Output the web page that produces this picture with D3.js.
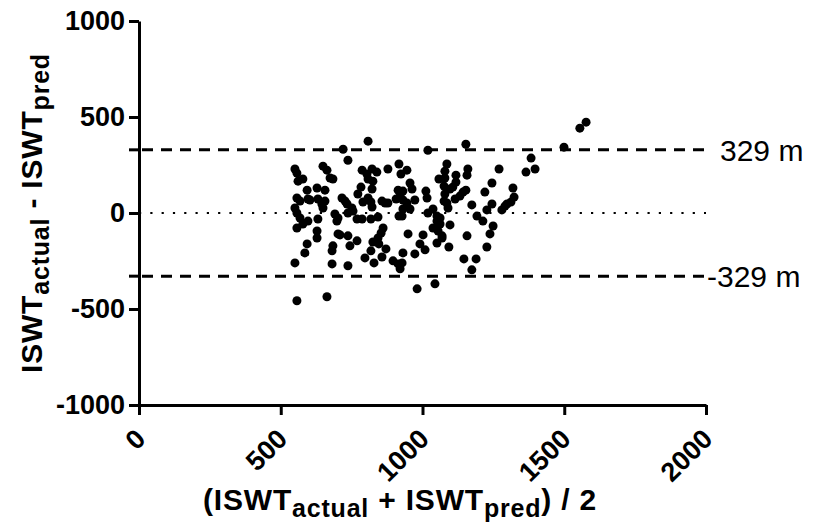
<!DOCTYPE html>
<html lang="en">
<head>
    <meta charset="UTF-8">
    <title>Bland-Altman ISWT</title>
    <script src="https://d3js.org/d3.v7.min.js"></script>
    <style>
        body {
            margin: 0;
            background: #fff;
        }
        svg {
            display: block;
            font-family: "Liberation Sans", Arial, sans-serif;
        }
        .axis path, .axis line {
            stroke: #000;
            stroke-width: 3;
        }
        .axis text {
            font-size: 27px;
            font-weight: bold;
            fill: #000;
        }
        .title {
            font-size: 30px;
            font-weight: bold;
            letter-spacing: 0.8px;
        }
        .limit-label {
            font-size: 30px;
        }
    </style>
</head>
<body>
    <div id="chart"></div>

    <script>
        // mean of actual and predicted ISWT (m)
        var meanVals = [
            550, 557, 561, 557, 568, 550, 557, 568, 578, 557, 596, 593, 596, 593, 585, 550, 557,
            628, 631, 631, 628, 628, 645, 649, 649, 663, 656, 656, 674, 684, 663, 691, 702, 698,
            702, 684, 681, 681, 709, 716, 727, 734, 751, 737, 755, 769, 720, 737, 737, 769, 744,
            737, 783, 772, 808,
            787, 804, 822, 839, 808, 825, 822, 790, 808, 818, 822, 787, 818, 843, 861, 854, 843,
            825, 846, 818, 871, 797, 829, 857, 896, 914, 928, 921, 931, 973, 949, 1002, 991, 1009,
            981, 1044, 878, 917, 924, 945, 956, 963, 914, 921, 907, 931, 945, 973, 1012, 1016, 857,
            878, 931, 917, 956, 1037, 1051, 1051, 1062, 1037, 1019, 1058, 1019, 1055, 1051, 1069,
            1086, 1079, 1079, 1076, 1097, 1079, 1076, 1090, 1062, 1097, 1093, 1153, 1118, 1118,
            1107, 1160, 1157, 1143, 1132, 1115, 1153, 1174, 1192, 1213, 1157, 1146, 1189, 1174,
            1220, 1245, 1270, 1245, 1227, 1249, 1238, 1227, 1319, 1323, 1312, 1298, 1291, 1280,
            1365, 1383, 1397, 1499, 1555, 1577,
            928, 603, 578, 1086, 1069, 931, 868
        ];
        // difference actual - predicted (m)
        var diffVals = [
            229, 208, 166, 78, 62, 26, 0, -26, -57, -78, -42, 119, 73, -161, -208, -260, -457,
            130, 73, -31, -94, -130, 47, 26, 244, 223, 119, 62, 182, 177, -436, -5, -26, -42,
            -109, -171, -197, -265, -114, 78, 62, 47, 26, 0, 10, -31, 332, 275, -119, -145, -171,
            -275, 135, 99, 374,
            223, 203, 229, 213, 177, 166, 125, 57, 78, 57, 31, -31, -31, -21, -78, -104, -130,
            -151, -161, -197, -187, -234, -260, -229, -249, -265, -260, -291, -208, -213, -109, -114, -161, -192,
            -395, -369, 229, 255, 203, 223, 156, 125, 119, 88, 73, 68, 52, 68, 114, 78, 62,
            52, 21, -16, 21, 21, -16, -42, -57, -78, 327, 177, 0, -94, -156, -119,
            255, 218, 182, 140, 125, 99, 62, 26, -26, -62, -177, 358, 197, 161,
            135, 229, 197, 109, 88, 73, 119, 42, -16, -42, -119, -239, -239, -296,
            109, 156, 229, 47, 16, -68, -109, -177, 130, 83, 57, 47, 36, 16,
            213, 286, 229, 343, 442, 473,
            -16, 68, 177, 52, -130, 114, 52
        ];
        var limits = [329, -329];
        var limitLabels = ["329 m", "-329 m"];
        var xTicks = [0, 500, 1000, 1500, 2000];
        var yTicks = [-1000, -500, 0, 500, 1000];

        var width = 813;
        var height = 529;

        var svg = d3.select("#chart")
            .append("svg")
            .attr("width", width)
            .attr("height", height);

        var x = d3.scaleLinear().domain([0, 2000]).range([139, 706]);
        var y = d3.scaleLinear().domain([-1000, 1000]).range([405, 21]);

        // bias line
        svg.append("line")
            .attr("x1", x(0)).attr("x2", x(2000))
            .attr("y1", y(0)).attr("y2", y(0))
            .attr("stroke", "#000")
            .attr("stroke-width", 2.2)
            .attr("stroke-dasharray", "2.2,9.1");

        // limits of agreement
        svg.selectAll(".limit")
            .data(limits)
            .enter().append("line")
            .attr("class", "limit")
            .attr("x1", x(0) + 3).attr("x2", x(2000))
            .attr("y1", d => y(d)).attr("y2", d => y(d))
            .attr("stroke", "#000")
            .attr("stroke-width", 3)
            .attr("stroke-dasharray", "11,8");

        svg.selectAll(".limit-label")
            .data(limits)
            .enter().append("text")
            .attr("class", "limit-label")
            .attr("x", d => x(2000) + (d > 0 ? 14 : 1))
            .attr("y", d => y(d))
            .attr("dy", "0.36em")
            .text((d, i) => limitLabels[i]);

        // points
        svg.selectAll(".dot")
            .data(meanVals)
            .enter().append("circle")
            .attr("class", "dot")
            .attr("cx", d => x(d))
            .attr("cy", (d, i) => y(diffVals[i]))
            .attr("r", 4.5)
            .attr("fill", "#000");

        // axes
        var yAxis = svg.append("g")
            .attr("class", "axis")
            .attr("transform", "translate(" + x(0) + ",0)")
            .call(d3.axisLeft(y).tickValues(yTicks).tickFormat(d => String(d))
                .tickSize(10).tickSizeOuter(0).tickPadding(4));

        yAxis.selectAll(".extra")
            .data(limits)
            .enter().append("line")
            .attr("class", "extra")
            .attr("x1", -10).attr("x2", 0)
            .attr("y1", d => y(d)).attr("y2", d => y(d));

        var xAxis = svg.append("g")
            .attr("class", "axis")
            .attr("transform", "translate(0," + y(-1000) + ")")
            .call(d3.axisBottom(x).tickValues(xTicks).tickFormat(d => String(d))
                .tickSize(10).tickSizeOuter(0));

        xAxis.selectAll("text")
            .attr("x", 0)
            .attr("y", 0)
            .attr("dy", "0.35em")
            .attr("text-anchor", "end")
            .attr("transform", "translate(1,29) rotate(-45)");

        // axis titles
        var yTitle = svg.append("text")
            .attr("class", "title")
            .attr("text-anchor", "middle")
            .attr("transform", "translate(42,213) rotate(-90)");
        yTitle.append("tspan").text("ISWT");
        yTitle.append("tspan").attr("dy", 7).style("font-size", "25px").text("actual");
        yTitle.append("tspan").attr("dy", -7).text(" - ISWT");
        yTitle.append("tspan").attr("dy", 7).style("font-size", "25px").text("pred");

        var xTitle = svg.append("text")
            .attr("class", "title")
            .attr("text-anchor", "middle")
            .attr("x", 400)
            .attr("y", 510);
        xTitle.append("tspan").text("(ISWT");
        xTitle.append("tspan").attr("dy", 7).style("font-size", "25px").text("actual");
        xTitle.append("tspan").attr("dy", -7).text(" + ISWT");
        xTitle.append("tspan").attr("dy", 7).style("font-size", "25px").text("pred");
        xTitle.append("tspan").attr("dy", -7).text(") / 2");
    </script>
</body>
</html>
